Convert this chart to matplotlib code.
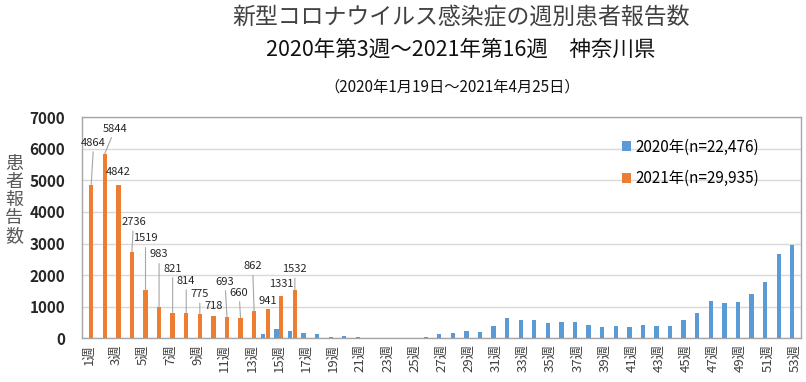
import numpy as np
import matplotlib
matplotlib.use("Agg")
import matplotlib.pyplot as plt

plt.rcParams['font.family'] = ['Noto Sans CJK JP', 'DejaVu Sans']

# weekly counts
weeks = np.arange(1, 54)
weeks_2020 = np.arange(3, 54)
cases_2020 = [0, 0, 1, 0, 3, 5, 8, 10, 15, 25,
              30, 150, 285, 230, 170, 140, 60, 90, 60, 30,
              10, 10, 15, 40, 130, 160, 250, 215, 380, 650,
              570, 570, 500, 520, 530, 440, 360, 380, 360, 440,
              390, 390, 570, 800, 1180, 1130, 1160, 1420, 1790, 2660,
              2950]
weeks_2021 = np.arange(1, 17)
cases_2021 = [4864, 5844, 4842, 2736, 1519, 983, 821, 814,
              775, 718, 693, 660, 862, 941, 1331, 1532]
tick_labels = [f"{w}週" for w in weeks[::2]]

# label offsets (pixels from bar top) and whether a leader line is drawn
label_dx = [2.5, 10.5, 0, 1.5, 0, 0, 0, 0, 0, 0, -2, -1.5, -1.5, 0, 0, 0]
label_dy = [42, 25, 13, 30, 52, 53, 44, 32, 20, 10, 35, 25, 45, 8, 12, 21]
leader = [1, 1, 0, 1, 1, 1, 1, 1, 1, 0, 1, 1, 1, 0, 0, 1]

c2020 = '#5B9BD5'
c2021 = '#ED7D31'

fig = plt.figure(figsize=(8.06, 3.82), dpi=100)
ax = fig.add_axes([0.1017, 0.1139, 0.8927, 0.5798])

bw = 0.32
ax.bar(weeks_2020 - 0.18, cases_2020, width=bw, color=c2020, label='2020年(n=22,476)', zorder=3)
ax.bar(weeks_2021 + 0.18, cases_2021, width=bw, color=c2021, label='2021年(n=29,935)', zorder=3)

for i, (w, v) in enumerate(zip(weeks_2021, cases_2021)):
    ap = None
    if leader[i]:
        ap = dict(arrowstyle='-', color='#a6a6a6', lw=0.8, shrinkA=1, shrinkB=0)
    ax.annotate(str(v), xy=(w + 0.18, v),
                xytext=(label_dx[i] * 0.72, label_dy[i] * 0.72),
                textcoords='offset points', ha='center', va='center',
                fontsize=8, color='#262626', arrowprops=ap, zorder=4)

ax.set_xlim(0.5, 53.5)
ax.set_ylim(0, 7000)
ax.set_yticks(np.arange(0, 7001, 1000))
ax.set_yticklabels([str(t) for t in range(0, 7001, 1000)], fontsize=11, fontweight='bold', color='#262626')
ax.set_xticks(weeks[::2])
ax.set_xticklabels(tick_labels, rotation=90, fontsize=9.5, color='#404040')
ax.tick_params(axis='y', length=0, pad=12)
ax.tick_params(axis='x', length=0, pad=4)
ax.grid(axis='y', color='#d9d9d9', linewidth=1, zorder=0)
for s in ax.spines.values():
    s.set_color('#a6a6a6')
    s.set_linewidth(1)

ax.legend(loc='upper left', bbox_to_anchor=(0.742, 0.93), frameon=False,
          fontsize=11, handlelength=0.6, handleheight=0.6, handletextpad=0.3,
          labelspacing=0.95, borderaxespad=0)

fig.text(14 / 806, 1 - 200 / 382, "\n".join("患者報告数"), ha='center', va='center',
         fontsize=13, color='#595959', linespacing=1.0)

fig.text(461 / 806, 1 - 18 / 382, "新型コロナウイルス感染症の週別患者報告数",
         ha='center', va='center', fontsize=16.5, color='#404040')
fig.text(461 / 806, 1 - 50 / 382, "2020年第3週～2021年第16週　神奈川県",
         ha='center', va='center', fontsize=15.5, color='#111111')
fig.text(452 / 806, 1 - 87 / 382, "（2020年1月19日～2021年4月25日）",
         ha='center', va='center', fontsize=11, color='#111111')

fig.savefig("out.png", dpi=100)
